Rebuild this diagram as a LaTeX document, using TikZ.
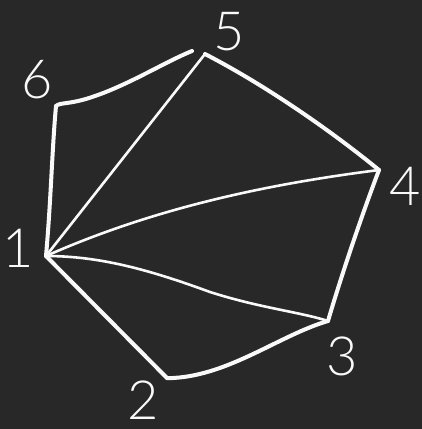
\documentclass[tikz,border=0pt]{standalone}
\usepackage{fontspec}
\setmainfont{Lato}
\newfontfamily\chalkfont{Lato Light}
\begin{document}
\begin{tikzpicture}[x=1pt,y=-1pt,
  edge/.style={draw=white!95!gray,line width=4pt,line cap=round,line join=round},
  diag/.style={draw=white!95!gray,line width=2.6pt,line cap=round},
  lab/.style={text=white!95!gray,font=\chalkfont\fontsize{54}{54}\selectfont,inner sep=0pt}]
\fill[fill={rgb,255:red,40;green,40;blue,40}] (0,0) rectangle (422,429);
\useasboundingbox (0,0) rectangle (422,429);
\coordinate (v1) at (46,256);
\coordinate (v2) at (167,378);
\coordinate (v3) at (328,321);
\coordinate (v4) at (379,170);
\coordinate (v5) at (205,54);
\coordinate (v6) at (56,106);
% polygon edges
\draw[edge] (v1) .. controls (51,200) and (52,150) .. (v6);
\draw[edge] (v6) .. controls (60,102) and (70,105) .. (95,96) .. controls (130,84) and (165,62) .. (192,51);
\draw[edge] (v5) .. controls (265,85) and (330,130) .. (v4);
\draw[edge] (v4) .. controls (360,220) and (340,280) .. (v3);
\draw[edge] (v3) .. controls (280,335) and (230,375) .. (173,378) -- (v2);
\draw[edge] (v2) -- (v1);
% diagonals
\draw[diag] (v1) -- (v5);
\draw[diag] (v1) .. controls (150,210) and (260,185) .. (v4);
\draw[diag] (v1) .. controls (100,256) and (150,270) .. (210,292) .. controls (260,308) and (300,312) .. (v3);
% labels
\node[lab] (l6) at (37,80) {6};
\node[lab] (l5) at (229,32) {5};
\node[lab] (l4) at (405,186) {4};
\node[lab] (l3) at (342,356) {3};
\node[lab] (l2) at (143,400) {2};
\node[lab] (l1) at (18,248) {1};
\end{tikzpicture}
\end{document}
